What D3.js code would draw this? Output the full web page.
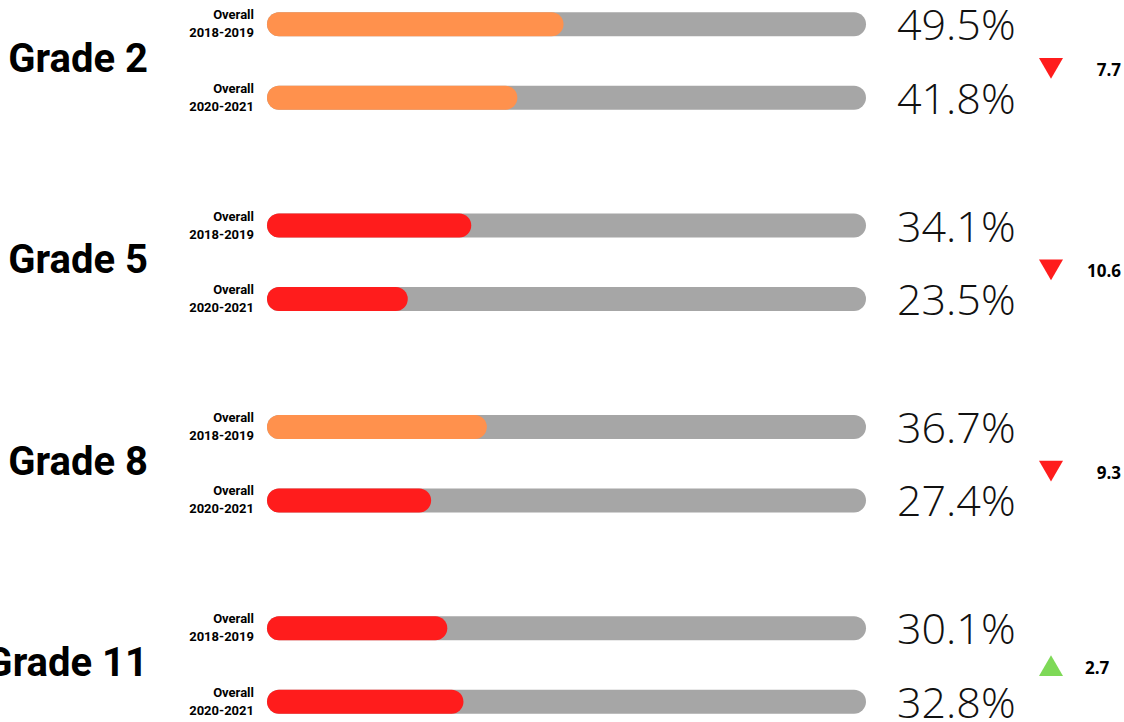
<!doctype html>
<html>
<head>
    <meta charset="utf-8"/>
    <style>
        html, body {
            width: 100%;
            height: 100%;
            margin: 0px;
            background: #fff;
        }
        svg {
            position: absolute;
            top: 0px;
            left: 0px;
        }
        .grade {
            font-family: Roboto, sans-serif;
            font-weight: 700;
            font-size: 40px;
            fill: #000;
        }
        .year {
            font-family: Roboto, sans-serif;
            font-weight: 700;
            font-size: 13px;
            fill: #000;
        }
        .pct {
            font-family: 'Open Sans', sans-serif;
            font-weight: 300;
            font-size: 43px;
            fill: #111;
        }
        .delta {
            font-family: 'Open Sans', sans-serif;
            font-weight: 700;
            font-size: 17px;
            fill: #000;
        }
    </style>
    <script src="https://cdn.jsdelivr.net/npm/d3@7"></script>
</head>
<body>

<svg width="1124" height="722"></svg>

<script>

    // Data
    var grades = ["Grade 2", "Grade 5", "Grade 8", "Grade 11"];
    var years = ["2018-2019", "2020-2021"];
    var score2019 = [49.5, 34.1, 36.7, 30.1];
    var score2021 = [41.8, 23.5, 27.4, 32.8];

    var BAR_H = 24;
    var ROW_GAP = 73.5;

    var RED = "#ff1c1c";
    var ORANGE = "#ff914d";
    var GRAY = "#a6a6a6";
    var GREEN = "#7ed957";

    var svg = d3.select("svg");

    var x = d3.scaleLinear().domain([0, 100]).range([267, 866]);
    var groupY = d3.scalePoint().domain(grades).range([61, 665]);
    var rowY = d3.scalePoint().domain(years).range([-ROW_GAP / 2, ROW_GAP / 2]);
    var barColour = d3.scaleThreshold().domain([35]).range([RED, ORANGE]);

    var groups = grades.map(function(g, i) {
        return {
            grade: g,
            rows: [
                {year: years[0], value: score2019[i]},
                {year: years[1], value: score2021[i]}
            ],
            change: score2021[i] - score2019[i]
        };
    });

    var group = svg.selectAll("g.group")
        .data(groups)
        .enter().append("g")
        .attr("class", "group")
        .attr("transform", function(d) { return "translate(0," + groupY(d.grade) + ")"; });

    group.append("text")
        .attr("class", "grade")
        .attr("x", 148)
        .attr("y", 11)
        .attr("text-anchor", "end")
        .text(function(d) { return d.grade; });

    var row = group.selectAll("g.row")
        .data(function(d) { return d.rows; })
        .enter().append("g")
        .attr("class", "row")
        .attr("transform", function(d) { return "translate(0," + rowY(d.year) + ")"; });

    // little two-line label left of each bar
    var lbl = row.append("text")
        .attr("class", "year")
        .attr("text-anchor", "end");
    lbl.append("tspan").attr("x", 254).attr("y", -5).text("Overall");
    lbl.append("tspan").attr("x", 254).attr("y", 13).text(function(d) { return d.year; });

    // gray track, then the coloured fill
    row.append("rect")
        .attr("x", x(0))
        .attr("y", -BAR_H / 2)
        .attr("width", x(100) - x(0))
        .attr("height", BAR_H)
        .attr("rx", BAR_H / 2)
        .attr("fill", GRAY);

    row.append("rect")
        .attr("x", x(0))
        .attr("y", -BAR_H / 2)
        .attr("width", function(d) { return x(d.value) - x(0); })
        .attr("height", BAR_H)
        .attr("rx", BAR_H / 2)
        .attr("fill", function(d) { return barColour(d.value); });

    row.append("text")
        .attr("class", "pct")
        .attr("x", 897)
        .attr("y", 16)
        .text(function(d) { return d3.format(".1f")(d.value) + "%"; });

    // change marker
    var tri = d3.symbol().type(d3.symbolTriangle).size(250);

    group.append("path")
        .attr("d", tri)
        .attr("transform", function(d) {
            return "translate(1051,4)" + (d.change < 0 ? " rotate(180)" : "");
        })
        .attr("fill", function(d) { return d.change < 0 ? RED : GREEN; });

    group.append("text")
        .attr("class", "delta")
        .attr("x", function(d) { return d.change < 0 ? 1121 : 1085; })
        .attr("y", function(d) { return d.change < 0 ? 15 : 9; })
        .attr("text-anchor", function(d) { return d.change < 0 ? "end" : "start"; })
        .text(function(d) { return d3.format(".1f")(Math.abs(d.change)); });

</script>

</body>
</html>
